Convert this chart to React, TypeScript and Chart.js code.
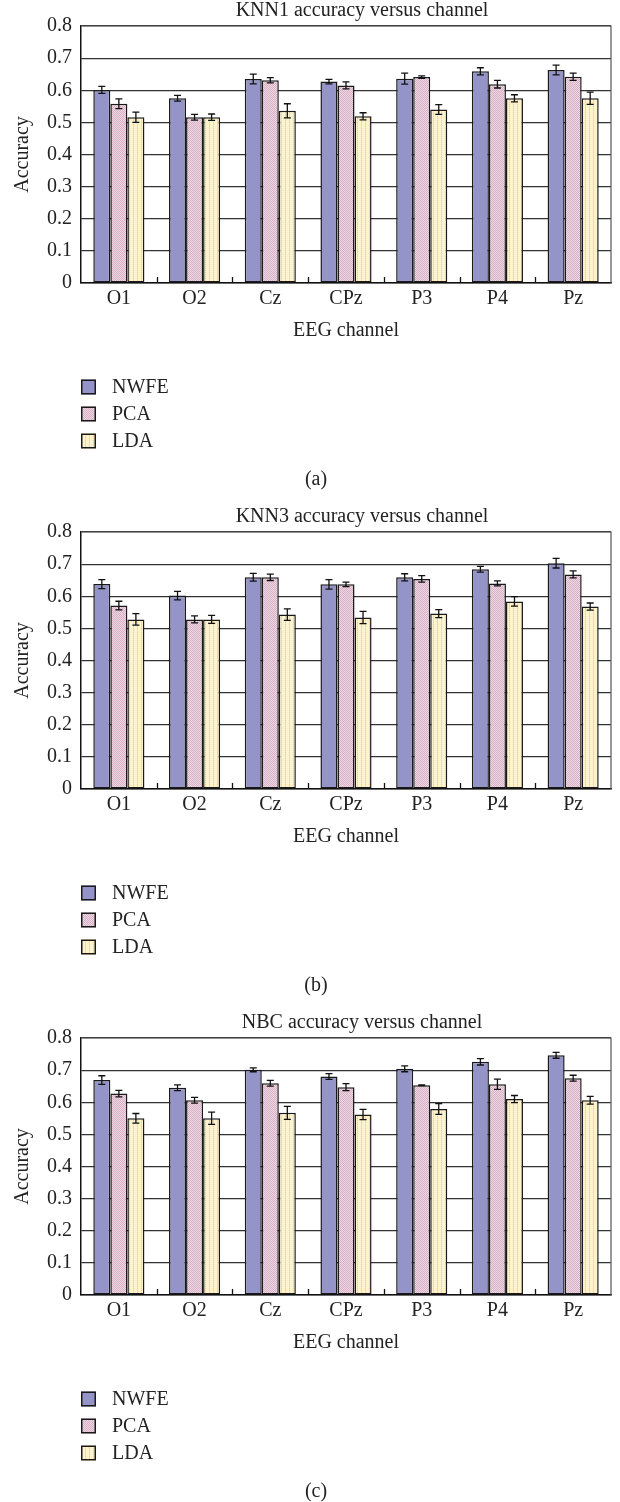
import React, { useEffect, useRef } from 'react';
import { Chart, registerables } from 'chart.js';

Chart.register(...registerables);

// ---------- data ----------
const categories = ['O1', 'O2', 'Cz', 'CPz', 'P3', 'P4', 'Pz'];
const seriesNames = ['NWFE', 'PCA', 'LDA'];
const yTickLabels = ['0', '0.1', '0.2', '0.3', '0.4', '0.5', '0.6', '0.7', '0.8'];
const panelTitles = ['KNN1 accuracy versus channel', 'KNN3 accuracy versus channel', 'NBC accuracy versus channel'];
const panelCaptions = ['(a)', '(b)', '(c)'];
const xAxisTitle = 'EEG channel';
const yAxisTitle = 'Accuracy';

// KNN1
const knn1Nwfe = [0.601, 0.575, 0.635, 0.627, 0.636, 0.659, 0.663];
const knn1NwfeErr = [0.011, 0.009, 0.015, 0.007, 0.017, 0.011, 0.015];
const knn1Pca = [0.558, 0.516, 0.631, 0.615, 0.641, 0.619, 0.642];
const knn1PcaErr = [0.015, 0.009, 0.008, 0.011, 0.004, 0.012, 0.011];
const knn1Lda = [0.516, 0.516, 0.536, 0.519, 0.540, 0.575, 0.575];
const knn1LdaErr = [0.016, 0.010, 0.022, 0.011, 0.015, 0.011, 0.019];

// KNN3
const knn3Nwfe = [0.638, 0.602, 0.659, 0.637, 0.659, 0.684, 0.703];
const knn3NwfeErr = [0.014, 0.013, 0.012, 0.015, 0.011, 0.009, 0.015];
const knn3Pca = [0.571, 0.528, 0.659, 0.637, 0.654, 0.640, 0.668];
const knn3PcaErr = [0.0135, 0.011, 0.010, 0.007, 0.010, 0.008, 0.011];
const knn3Lda = [0.528, 0.528, 0.543, 0.534, 0.546, 0.584, 0.568];
const knn3LdaErr = [0.018, 0.0125, 0.018, 0.019, 0.0125, 0.015, 0.011];

// NBC
const nbcNwfe = [0.669, 0.645, 0.701, 0.680, 0.704, 0.726, 0.746];
const nbcNwfeErr = [0.0135, 0.009, 0.006, 0.009, 0.009, 0.010, 0.009];
const nbcPca = [0.627, 0.606, 0.659, 0.647, 0.653, 0.656, 0.675];
const nbcPcaErr = [0.010, 0.009, 0.009, 0.011, 0.001, 0.016, 0.009];
const nbcLda = [0.550, 0.550, 0.567, 0.562, 0.579, 0.610, 0.606];
const nbcLdaErr = [0.015, 0.019, 0.020, 0.016, 0.017, 0.011, 0.012];

const panelValues = [
  [knn1Nwfe, knn1Pca, knn1Lda],
  [knn3Nwfe, knn3Pca, knn3Lda],
  [nbcNwfe, nbcPca, nbcLda],
];
const panelErrors = [
  [knn1NwfeErr, knn1PcaErr, knn1LdaErr],
  [knn3NwfeErr, knn3PcaErr, knn3LdaErr],
  [nbcNwfeErr, nbcPcaErr, nbcLdaErr],
];

// ---------- style ----------
const FONT_FAMILY = '"Liberation Serif", "Times New Roman", serif';
const FONT_SIZE = 20;
const TEXT_COLOR = '#222';
const PANEL_W = 620;
const PANEL_H = 506;

Chart.defaults.font.family = FONT_FAMILY;
Chart.defaults.font.size = FONT_SIZE;
Chart.defaults.color = TEXT_COLOR;

function makePattern(kind: 'pca' | 'lda'): CanvasPattern | string {
  const c = document.createElement('canvas');
  const g = c.getContext('2d');
  if (!g) return kind === 'pca' ? '#e4c6d6' : '#fdecc4';
  if (kind === 'pca') {
    c.width = 2;
    c.height = 2;
    g.fillStyle = '#eed6e3';
    g.fillRect(0, 0, 2, 2);
    g.fillStyle = '#d7b2c7';
    g.fillRect(0, 0, 1, 1);
    g.fillRect(1, 1, 1, 1);
  } else {
    c.width = 4;
    c.height = 2;
    g.fillStyle = '#fff3cd';
    g.fillRect(0, 0, 4, 2);
    g.fillStyle = '#f6cf98';
    g.fillRect(1, 0, 1, 1);
    g.fillStyle = '#fae0b4';
    g.fillRect(1, 1, 1, 1);
  }
  const p = g.createPattern(c, 'repeat');
  return p || '#fdecc4';
}

const decoPlugin = {
  id: 'panelDeco',
  afterDatasetsDraw(chart: any) {
    const { ctx } = chart;
    const y = chart.scales.y;
    ctx.save();
    ctx.strokeStyle = '#111';
    ctx.lineWidth = 1.3;
    chart.data.datasets.forEach((ds: any, d: number) => {
      const meta = chart.getDatasetMeta(d);
      meta.data.forEach((bar: any, j: number) => {
        const v = ds.data[j];
        const e = ds.errors[j];
        const yt = y.getPixelForValue(v + e);
        const yb = y.getPixelForValue(v - e);
        const x = bar.x;
        ctx.beginPath();
        ctx.moveTo(x, yt);
        ctx.lineTo(x, yb);
        ctx.moveTo(x - 3.5, yt);
        ctx.lineTo(x + 3.5, yt);
        ctx.moveTo(x - 3.5, yb);
        ctx.lineTo(x + 3.5, yb);
        ctx.stroke();
      });
    });
    ctx.restore();
  },
  afterDraw(chart: any, _args: any, opts: any) {
    const { ctx, chartArea: a } = chart;
    const xs = chart.scales.x;
    ctx.save();
    // plot area border (top + right)
    ctx.strokeStyle = '#555';
    ctx.lineWidth = 1.2;
    ctx.beginPath();
    ctx.moveTo(a.left, a.top);
    ctx.lineTo(a.right, a.top);
    ctx.lineTo(a.right, a.bottom);
    ctx.stroke();

    // inward tick marks between categories
    ctx.strokeStyle = '#111';
    ctx.lineWidth = 1.3;
    ctx.beginPath();
    for (let i = 0; i < categories.length - 1; i++) {
      const xm = Math.round((xs.getPixelForTick(i) + xs.getPixelForTick(i + 1)) / 2) + 0.5;
      ctx.moveTo(xm, a.bottom);
      ctx.lineTo(xm, a.bottom - 6);
    }
    ctx.stroke();

    ctx.font = `${FONT_SIZE}px ${FONT_FAMILY}`;
    ctx.fillStyle = TEXT_COLOR;
    ctx.textBaseline = 'middle';

    // title
    ctx.textAlign = 'center';
    ctx.fillText(opts.title, (a.left + a.right) / 2 + 16, a.top - 15.5);

    // legend
    chart.data.datasets.forEach((ds: any, i: number) => {
      const cy = a.bottom + 104 + i * 27;
      ctx.fillStyle = ds.backgroundColor;
      ctx.fillRect(a.left, cy - 7.5, 15, 15);
      ctx.strokeStyle = '#1a1a1a';
      ctx.lineWidth = 1.5;
      ctx.strokeRect(a.left + 0.75, cy - 6.75, 13.5, 13.5);
      ctx.fillStyle = TEXT_COLOR;
      ctx.textAlign = 'left';
      ctx.fillText(ds.label, a.left + 31, cy + 1);
    });

    // caption
    ctx.textAlign = 'center';
    ctx.fillStyle = TEXT_COLOR;
    ctx.fillText(opts.caption, 316, a.bottom + 197);
    ctx.restore();
  },
};

function Panel({ index }: { index: number }) {
  const ref = useRef<HTMLCanvasElement>(null);
  useEffect(() => {
    const canvas = ref.current;
    if (!canvas) return;
    const fills: any[] = ['#9494c8', makePattern('pca'), makePattern('lda')];
    const chart = new Chart(canvas, {
      type: 'bar',
      data: {
        labels: categories,
        datasets: seriesNames.map((name, i) => ({
          label: name,
          data: panelValues[index][i],
          errors: panelErrors[index][i],
          backgroundColor: fills[i],
          borderColor: '#1a1a1a',
          borderWidth: 1.5,
          borderSkipped: false,
          categoryPercentage: 0.675,
          barPercentage: 1,
        })) as any,
      },
      options: {
        responsive: false,
        animation: false,
        devicePixelRatio: 1,
        layout: { padding: { top: 26, left: 0, right: 9, bottom: PANEL_H - 283 - 60 } },
        plugins: {
          legend: { display: false },
          title: { display: false },
          tooltip: { enabled: false },
          panelDeco: { title: panelTitles[index], caption: panelCaptions[index] },
        } as any,
        scales: {
          x: {
            grid: { display: false, drawTicks: false },
            border: { display: true, color: '#111', width: 1.5 },
            ticks: { padding: 4, color: TEXT_COLOR },
            title: { display: true, text: xAxisTitle, padding: 0, color: TEXT_COLOR },
            afterFit: (s: any) => {
              s.height = 60;
            },
          },
          y: {
            min: 0,
            max: 0.8,
            ticks: {
              stepSize: 0.1,
              padding: 9,
              color: TEXT_COLOR,
              callback: (_v: any, i: number) => yTickLabels[i],
            },
            grid: { color: '#333', lineWidth: 1.2, drawTicks: false },
            border: { display: true, color: '#111', width: 1.5 },
            title: { display: true, text: yAxisTitle, padding: { top: 11, bottom: 0 }, color: TEXT_COLOR },
            afterFit: (s: any) => {
              s.width = 81;
            },
          },
        },
      } as any,
      plugins: [decoPlugin as any],
    });
    return () => chart.destroy();
  }, [index]);
  return (
    <div style={{ width: PANEL_W, height: PANEL_H }}>
      <canvas ref={ref} width={PANEL_W} height={PANEL_H} style={{ display: 'block' }} />
    </div>
  );
}

export default function App() {
  return (
    <div style={{ position: 'absolute', top: 0, left: 0, width: PANEL_W, background: '#fff' }}>
      {panelTitles.map((_, i) => (
        <Panel key={i} index={i} />
      ))}
    </div>
  );
}
